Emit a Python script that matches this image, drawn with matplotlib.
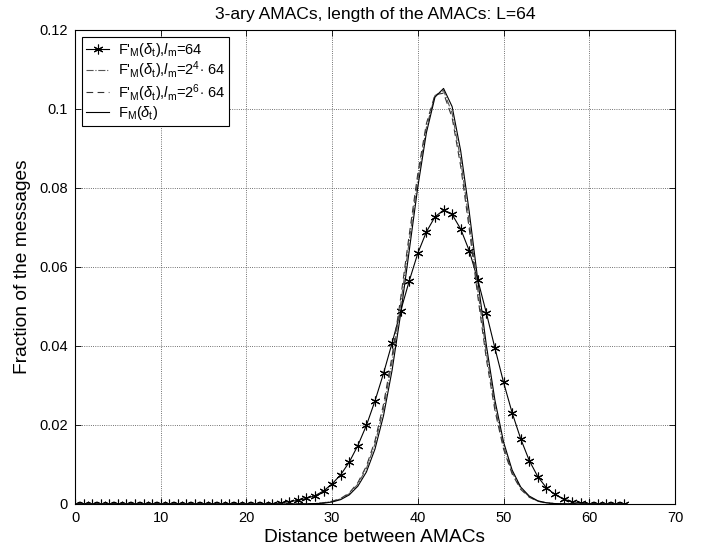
import numpy as np
import matplotlib
matplotlib.use("Agg")
import matplotlib.pyplot as plt

plt.rcParams['font.family'] = ['Liberation Sans', 'DejaVu Sans']
plt.rcParams['mathtext.fontset'] = 'custom'
plt.rcParams['mathtext.rm'] = 'Liberation Sans'
plt.rcParams['mathtext.it'] = 'Liberation Sans:italic'
plt.rcParams['mathtext.sf'] = 'Liberation Sans'

# distances 0..64
dist = np.arange(0, 65)

# F'_M(delta_t), l_m = 64
f_lm64 = [0.0] * 23 + [
    0.0001, 0.0003, 0.0006, 0.0009, 0.0014, 0.0021, 0.0033,      # 23-29
    0.0051, 0.0074, 0.0106, 0.0148, 0.0199, 0.0261, 0.0331,      # 30-36
    0.0408, 0.0489, 0.0565, 0.0635, 0.0689, 0.0727, 0.0744,      # 37-43
    0.0733, 0.0696, 0.0641, 0.0567, 0.0483, 0.0394, 0.0308,      # 44-50
    0.0231, 0.0165, 0.0110, 0.0069, 0.0041, 0.0024, 0.0012,      # 51-57
    0.0006, 0.0003, 0.0001, 0.0, 0.0, 0.0, 0.0]                  # 58-64

# F'_M(delta_t), l_m = 2^4 * 64  (dash-dot)
f_lm2_4 = [0.0] * 27 + [
    0.00004, 0.0001, 0.0003,                                      # 27-29
    0.0006, 0.0013, 0.0026, 0.0050, 0.0090, 0.0152, 0.0241,      # 30-36
    0.0361, 0.0506, 0.0666, 0.0823, 0.0953, 0.1034, 0.1047,      # 37-43
    0.0989, 0.0871, 0.0713, 0.0541, 0.0381, 0.0246, 0.0146,      # 44-50
    0.0080, 0.0040, 0.0018, 0.0007, 0.0003, 0.0001, 0.00003,     # 51-57
    0.0, 0.0, 0.0, 0.0, 0.0, 0.0, 0.0]                            # 58-64

# F'_M(delta_t), l_m = 2^6 * 64  (dashed)
f_lm2_6 = [0.0] * 27 + [
    0.00005, 0.0001, 0.0003,                                      # 27-29
    0.0007, 0.0014, 0.0028, 0.0054, 0.0096, 0.0160, 0.0253,      # 30-36
    0.0375, 0.0522, 0.0682, 0.0837, 0.0963, 0.1036, 0.1040,      # 37-43
    0.0978, 0.0855, 0.0696, 0.0525, 0.0366, 0.0236, 0.0139,      # 44-50
    0.0076, 0.0037, 0.0017, 0.0007, 0.0002, 0.0001, 0.00002,     # 51-57
    0.0, 0.0, 0.0, 0.0, 0.0, 0.0, 0.0]                            # 58-64

# F_M(delta_t)  (solid)
f_m = [0.0] * 27 + [
    0.00003, 0.00009, 0.0002,                                     # 27-29
    0.0005, 0.0011, 0.0023, 0.0045, 0.0081, 0.0139, 0.0224,      # 30-36
    0.0339, 0.0482, 0.0642, 0.0803, 0.0940, 0.1030, 0.1052,      # 37-43
    0.1006, 0.0894, 0.0739, 0.0566, 0.0401, 0.0262, 0.0157,      # 44-50
    0.0086, 0.0043, 0.0020, 0.0008, 0.0003, 0.0001, 0.00003,     # 51-57
    0.0, 0.0, 0.0, 0.0, 0.0, 0.0, 0.0]                            # 58-64

labels = [
    r"F'$_{\rm M}$($\delta_{\rm t}$),$\it{l}_{\rm m}$=64",
    r"F'$_{\rm M}$($\delta_{\rm t}$),$\it{l}_{\rm m}$=2$^4$$\cdot$ 64",
    r"F'$_{\rm M}$($\delta_{\rm t}$),$\it{l}_{\rm m}$=2$^6$$\cdot$ 64",
    r"F$_{\rm M}$($\delta_{\rm t}$)",
]

fig = plt.figure(figsize=(7.09, 5.57), dpi=100)
ax = fig.add_axes([0.1058, 0.0952, 0.8462, 0.851])

# MATLAB style asterisk marker
ax.plot(dist, f_lm64, color='black', lw=0.8, marker=(6, 2, 0), ms=7, mew=0.8, label=labels[0])
ax.plot(dist, f_lm2_4, color='#555555', lw=0.8, ls='-.', label=labels[1])
ax.plot(dist, f_lm2_6, color='#333333', lw=0.8, ls=(0, (6, 4)), label=labels[2])
ax.plot(dist, f_m, color='black', lw=0.8, ls='-', label=labels[3])

ax.set_xlim(0, 70)
ax.set_ylim(0, 0.12)
ax.set_xticks(np.arange(0, 71, 10))
ax.set_yticks(np.arange(0, 0.121, 0.02))
ax.set_yticklabels(['0', '0.02', '0.04', '0.06', '0.08', '0.1', '0.12'])
ax.tick_params(direction='in', top=True, right=True, labelsize=10.5, length=4, width=0.6, pad=5)
ax.grid(True, ls=':', color='#444444', lw=0.6)
for s in ax.spines.values():
    s.set_linewidth(0.8)

ax.set_title('3-ary AMACs, length of the AMACs: L=64', fontsize=12.6, pad=8)
ax.set_xlabel('Distance between AMACs', fontsize=13.8, labelpad=3)
ax.set_ylabel('Fraction of the messages', fontsize=13.8, labelpad=6)

leg = ax.legend(loc='upper left', fontsize=10.5, fancybox=False, framealpha=1,
                edgecolor='black', borderaxespad=0.5, handlelength=1.6,
                labelspacing=0.05, borderpad=0.25, handletextpad=0.6)
leg.get_frame().set_linewidth(0.8)

fig.savefig('out.png', dpi=100)
